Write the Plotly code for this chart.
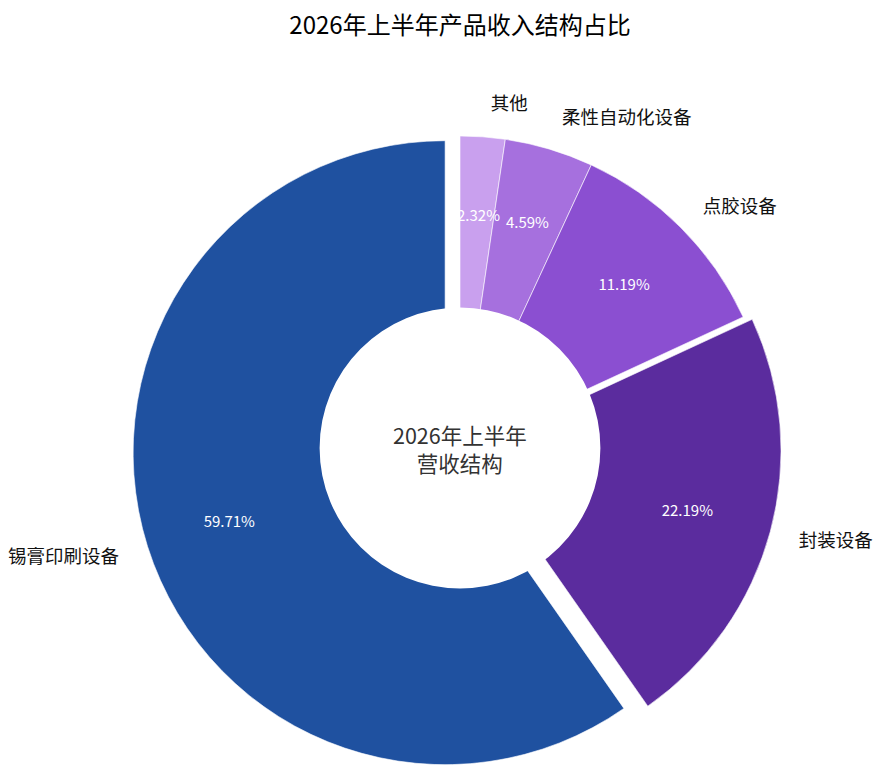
import plotly.graph_objects as go

# -----------------------------
# Data (share of H1 2026 revenue, %)
# -----------------------------
segments = ["其他", "柔性自动化设备", "点胶设备", "封装设备", "锡膏印刷设备"]
shares = [2.32, 4.59, 11.19, 22.19, 59.71]
pulls = [0, 0, 0, 0.03, 0.05]
colors = ["#C9A0EE", "#A670DE", "#8B4FD1", "#5B2C9E", "#1F51A0"]

title_text = "2026年上半年产品收入结构占比"
center_text = "2026年上半年<br>营收结构"

font_cn = "Noto Sans CJK SC"
n = len(segments)
clear = ["rgba(0,0,0,0)"] * n

# -----------------------------
# Geometry (pixels of the figure -> paper fractions)
# -----------------------------
W, H = 884, 800          # page body adds 8px; the bottom strip is off-screen
cx, cy = 452 / W, 1 - 440 / H
R = 312                  # outer radius of the ring
hole = 0.45
R_lab = 334              # radius of the invisible pie that carries the names


def centred_domain(half_px, shift_px=0):
    mx = cx + shift_px / W
    hx = (half_px + 20) / W
    hy = half_px / H
    return dict(x=[mx - hx, mx + hx], y=[cy - hy, cy + hy])


def base_pie(**kw):
    return go.Pie(labels=segments, values=shares, sort=False,
                  direction="clockwise", showlegend=False, **kw)


def only(idx, pos):
    return [pos if i in idx else "none" for i in range(n)]


grow = 1 + max(pulls)
main_dom = centred_domain(R * grow)

fig = go.Figure()

# coloured ring (a white disc on top makes the hole)
fig.add_trace(base_pie(
    pull=pulls, domain=main_dom,
    marker=dict(colors=colors, line=dict(color="white", width=0.6)),
    textinfo="none", hoverinfo="label+value",
))

# white centre disc
fig.add_trace(go.Pie(
    labels=["hole"], values=[1], domain=centred_domain(hole * R),
    marker=dict(colors=["white"], line=dict(width=0)),
    textinfo="none", hoverinfo="skip", showlegend=False,
))

# percentages: big slices sit in the middle of the ring
pct_font = dict(family=font_cn, size=15, color="white")
fig.add_trace(base_pie(
    pull=pulls, domain=main_dom, hole=hole,
    marker=dict(colors=clear, line=dict(width=0)),
    texttemplate="%{value:.2f}%", textposition=only([2, 3, 4], "inside"),
    insidetextorientation="horizontal", insidetextfont=pct_font,
    hoverinfo="skip",
))
# 4.59%: its own smaller invisible pie so the text lands mid-ring
fig.add_trace(base_pie(
    domain=centred_domain(0.865 * R),
    marker=dict(colors=clear, line=dict(width=0)),
    texttemplate="%{value:.2f}%", textposition=only([1], "inside"),
    insidetextorientation="horizontal", insidetextfont=pct_font,
    hoverinfo="skip",
))
# 2.32% is too thin to hold its text, so it is set as an outside label of a
# small invisible pie turned so the label sits on the slice, unshrunk
half_first = shares[0] / sum(shares) * 180
fig.add_trace(base_pie(
    domain=centred_domain(0.715 * R, shift_px=-9), rotation=0.2 - half_first,
    marker=dict(colors=clear, line=dict(width=0)),
    texttemplate="%{value:.2f}%", textposition=only([0], "outside"),
    outsidetextfont=pct_font, hoverinfo="skip",
))

# category names outside (其他 in its own trace so it is not nudged)
lab_font = dict(family=font_cn, size=18.5, color="#111111")
fig.add_trace(base_pie(
    domain=centred_domain(R_lab),
    marker=dict(colors=clear, line=dict(width=0)),
    texttemplate="%{label}", textposition=only([0], "outside"),
    outsidetextfont=lab_font, hoverinfo="skip",
))
fig.add_trace(base_pie(
    pull=pulls, domain=centred_domain(R_lab * grow),
    marker=dict(colors=clear, line=dict(width=0)),
    texttemplate="%{label}", textposition=only([1, 2, 3, 4], "outside"),
    outsidetextfont=lab_font, hoverinfo="skip",
))

fig.add_annotation(
    x=cx, y=cy, xref="paper", yref="paper", text=center_text,
    showarrow=False, font=dict(family=font_cn, size=21.5, color="#333333"),
)

fig.update_layout(
    width=W, height=H,
    title=dict(text=title_text, x=cx, xanchor="center", y=1 - 18 / H, yanchor="middle",
               yref="container", font=dict(family=font_cn, size=24, color="#000000")),
    margin=dict(l=0, r=0, t=0, b=0, autoexpand=False),
    paper_bgcolor="white",
    font=dict(family=font_cn),
)

fig.write_html("out.html")
